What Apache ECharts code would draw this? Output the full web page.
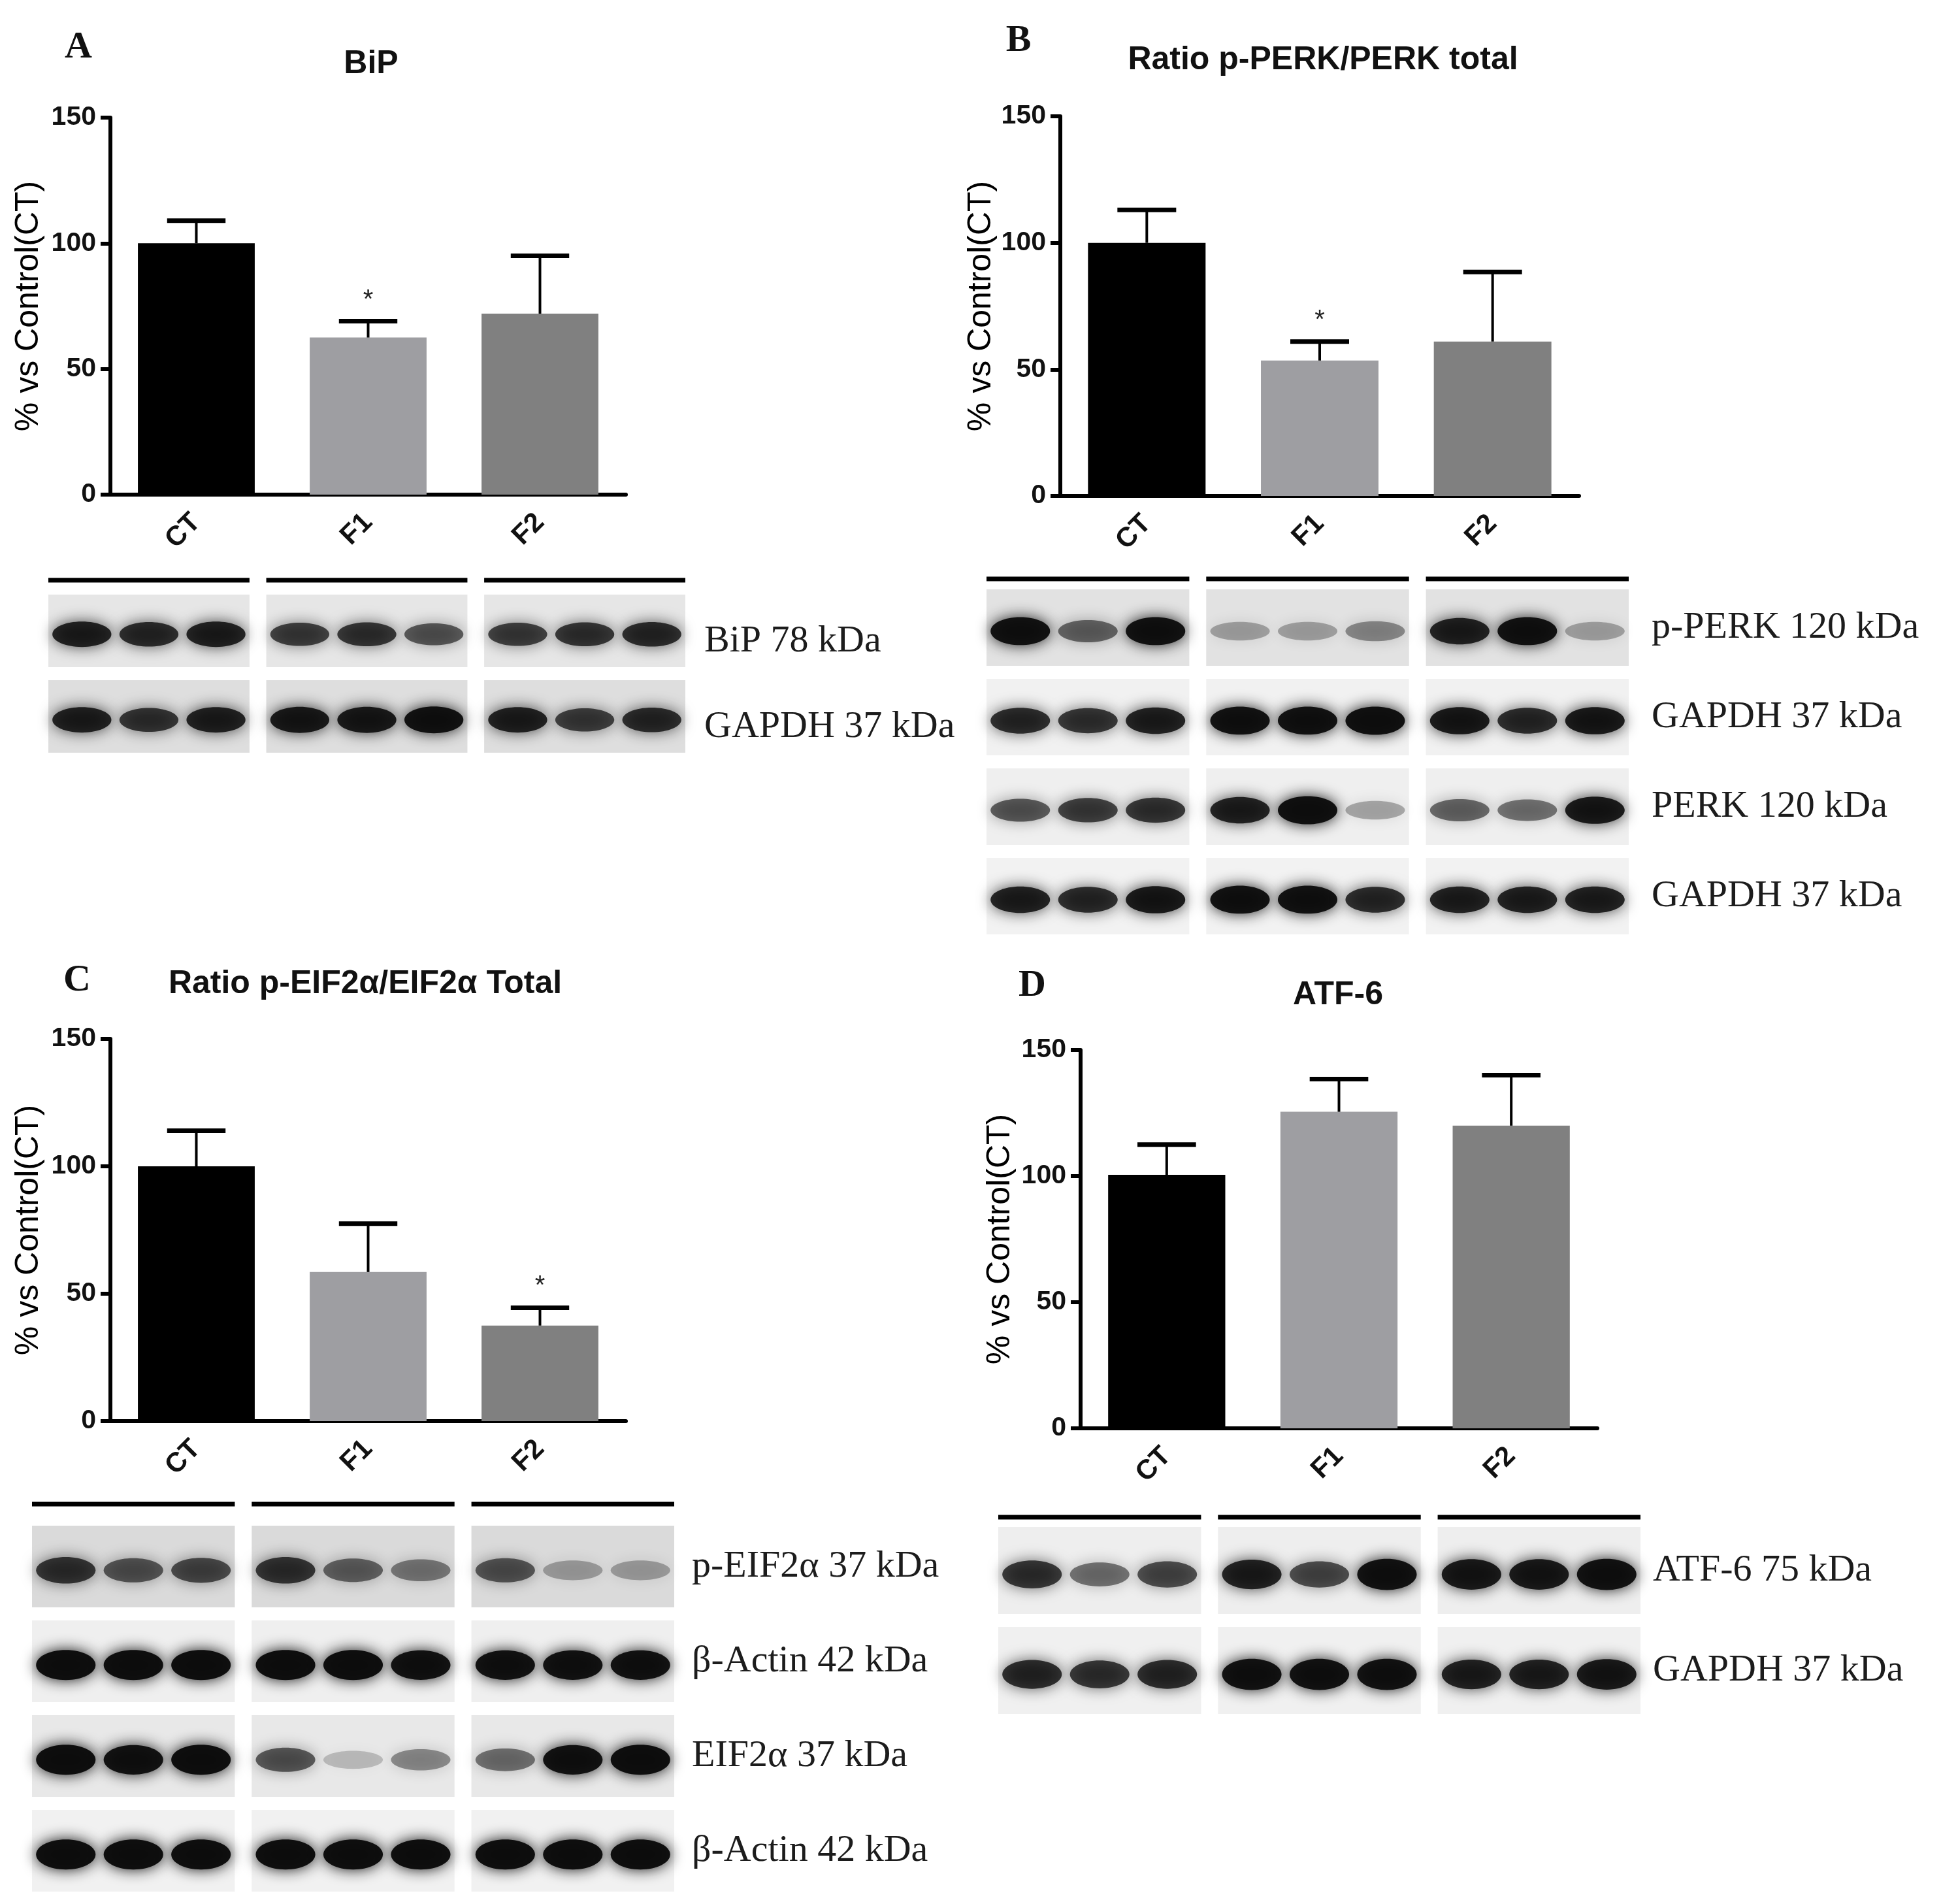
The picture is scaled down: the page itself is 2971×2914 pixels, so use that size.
<!DOCTYPE html>
<html>
<head>
<meta charset="utf-8" />
<title>UPR markers</title>
<script src="https://cdn.jsdelivr.net/npm/echarts@6/dist/echarts.min.js"></script>
<style>
html, body { margin: 0; padding: 0; background: #fff; }
#main { width: 2971px; height: 2914px; }
</style>
</head>
<body>
<div id="main"></div>
<script type="text/javascript">
// groups on the x axis and y ticks (% vs control)
var categories = ['CT', 'F1', 'F2'];
var yTicks = [0, 50, 100, 150];

// bar heights (mean) and top of the error bar (mean + SEM)
var bipMean = [100, 62.5, 72];
var bipUpper = [109, 69, 95];
var bipSig = ['', '*', ''];

var perkMean = [100, 53.5, 61];
var perkUpper = [113, 61, 88.5];
var perkSig = ['', '*', ''];

var eifMean = [100, 58.5, 37.5];
var eifUpper = [114, 77.5, 44.5];
var eifSig = ['', '', '*'];

var atfMean = [100.5, 125.5, 120];
var atfUpper = [112.5, 138.5, 140];
var atfSig = ['', '', ''];

// western blot rows: label and band darkness per lane (3 lanes x CT, F1, F2)
var bipRows = ['BiP 78 kDa', 'GAPDH 37 kDa'];
var bipBands = [
    [0.85, 0.8, 0.85, 0.7, 0.75, 0.6, 0.7, 0.75, 0.8],
    [0.85, 0.75, 0.85, 0.9, 0.9, 0.95, 0.85, 0.7, 0.8]
];
var perkRows = ['p-PERK 120 kDa', 'GAPDH 37 kDa', 'PERK 120 kDa', 'GAPDH 37 kDa'];
var perkBands = [
    [0.95, 0.55, 0.95, 0.3, 0.3, 0.4, 0.85, 0.95, 0.3],
    [0.8, 0.75, 0.85, 0.95, 0.95, 0.97, 0.9, 0.8, 0.9],
    [0.6, 0.7, 0.75, 0.85, 0.97, 0.3, 0.55, 0.5, 0.9],
    [0.85, 0.8, 0.9, 0.95, 0.95, 0.8, 0.85, 0.85, 0.85]
];
var eifRows = ['p-EIF2\u03b1 37 kDa', '\u03b2-Actin 42 kDa', 'EIF2\u03b1 37 kDa', '\u03b2-Actin 42 kDa'];
var eifBands = [
    [0.75, 0.6, 0.65, 0.75, 0.55, 0.45, 0.6, 0.3, 0.3],
    [0.98, 0.98, 0.98, 0.98, 0.98, 0.95, 0.95, 0.95, 0.95],
    [0.98, 0.95, 0.98, 0.6, 0.2, 0.4, 0.5, 0.95, 0.98],
    [0.98, 0.98, 0.98, 0.98, 0.98, 0.98, 0.98, 0.98, 0.98]
];
var atfRows = ['ATF-6 75 kDa', 'GAPDH 37 kDa'];
var atfBands = [
    [0.75, 0.5, 0.65, 0.85, 0.65, 0.95, 0.9, 0.9, 0.95],
    [0.8, 0.75, 0.8, 0.95, 0.95, 0.95, 0.85, 0.85, 0.9]
];

var barColors = ['#000000', '#9e9ea2', '#808080'];
var GROUP_STEP = 3.25;  // lanes per group + gap between groups
var SANS = '"Liberation Sans", Arial, sans-serif';
var SERIF = '"Liberation Serif", "Times New Roman", serif';

var panels = [
    {letter: 'A', letterPos: [120, 73], title: 'BiP', titlePos: [568, 98],
     grid: {left: 169, top: 180, width: 789, height: 577}, nameGap: 100,
     mean: bipMean, upper: bipUpper, sig: bipSig,
     blot: {left: 74, top: 900, width: 975, rowH: 131, lineGap: 22, labelGap: 29, labelShift: 32},
     rows: bipRows, bands: bipBands, shades: ['#e6e6e6', '#dedede']},
    {letter: 'B', letterPos: [1559, 63], title: 'Ratio p-PERK/PERK total', titlePos: [2025, 92],
     grid: {left: 1623, top: 178, width: 794, height: 581}, nameGap: 96,
     mean: perkMean, upper: perkUpper, sig: perkSig,
     blot: {left: 1510, top: 892, width: 983, rowH: 137, lineGap: 16, labelGap: 35, labelShift: 0},
     rows: perkRows, bands: perkBands, shades: ['#e2e2e2', '#f1f1f1', '#efefef', '#f2f2f2']},
    {letter: 'C', letterPos: [118, 1501], title: 'Ratio p-EIF2\u03b1/EIF2\u03b1 Total', titlePos: [559, 1506],
     grid: {left: 169, top: 1590, width: 789, height: 585}, nameGap: 100,
     mean: eifMean, upper: eifUpper, sig: eifSig,
     blot: {left: 49, top: 2325, width: 983, rowH: 145, lineGap: 33, labelGap: 27, labelShift: 0},
     rows: eifRows, bands: eifBands, shades: ['#dadada', '#efefef', '#e8e8e8', '#f1f1f1']},
    {letter: 'D', letterPos: [1580, 1509], title: 'ATF-6', titlePos: [2048, 1523],
     grid: {left: 1654, top: 1607, width: 791, height: 579}, nameGap: 98,
     mean: atfMean, upper: atfUpper, sig: atfSig,
     blot: {left: 1528, top: 2327, width: 983, rowH: 153, lineGap: 15, labelGap: 19, labelShift: 0},
     rows: atfRows, bands: atfBands, shades: ['#eeeeee', '#f0f0f0']}
];

function errorItem(sig) {
    return function (params, api) {
        var i = api.value(0);
        var base = api.coord([i, api.value(1)]);
        var top = api.coord([i, api.value(2)]);
        var half = api.size([1, 0])[0] * 0.17;
        var kids = [
            {type: 'line', shape: {x1: top[0], y1: base[1], x2: top[0], y2: top[1]},
             style: {stroke: '#000', lineWidth: 4}},
            {type: 'line', shape: {x1: top[0] - half, y1: top[1], x2: top[0] + half, y2: top[1]},
             style: {stroke: '#000', lineWidth: 7}}
        ];
        if (sig[i]) {
            kids.push({type: 'text', x: top[0], y: top[1] - 32,
                style: {text: sig[i], fill: '#222', font: '40px ' + SANS, align: 'center', verticalAlign: 'middle'}});
        }
        return {type: 'group', children: kids};
    };
}

function laneBox(shades, lineGap) {
    return function (params, api) {
        var g = api.value(0), r = api.value(1);
        var a = api.coord([g * GROUP_STEP, r]);
        var b = api.coord([g * GROUP_STEP + 3, r]);
        var rowH = api.size([0, 1])[1];
        var y0 = a[1] - rowH / 2 + 10;
        var kids = [{type: 'rect', shape: {x: a[0], y: y0, width: b[0] - a[0], height: rowH - 20},
                     style: {fill: shades[r]}}];
        if (r === 0) {
            kids.push({type: 'line', shape: {x1: a[0], y1: y0 - lineGap, x2: b[0], y2: y0 - lineGap},
                       style: {stroke: '#000', lineWidth: 7}});
        }
        return {type: 'group', children: kids};
    };
}

function bandItem(params, api) {
    var p = api.coord([api.value(0), api.value(1)]);
    var lane = api.size([1, 0])[0];
    var rowH = api.size([0, 1])[1];
    var a = api.value(2);
    var col = 'rgba(12,12,12,' + a + ')';
    return {type: 'ellipse',
        shape: {cx: p[0], cy: p[1] + rowH * 0.04, rx: lane * 0.44, ry: rowH * (0.08 + 0.08 * a)},
        style: {fill: col, shadowBlur: 22, shadowColor: col}};
}

var option = {
    backgroundColor: '#ffffff',
    animation: false,
    title: [], grid: [], xAxis: [], yAxis: [], series: []
};

panels.forEach(function (p, k) {
    option.title.push({text: p.letter, left: p.letterPos[0], top: p.letterPos[1], padding: 0,
        textAlign: 'center', textVerticalAlign: 'middle',
        textStyle: {fontFamily: SERIF, fontWeight: 'bold', fontSize: 58, color: '#111'}});
    option.title.push({text: p.title, left: p.titlePos[0], top: p.titlePos[1], padding: 0,
        textAlign: 'center', textVerticalAlign: 'middle',
        textStyle: {fontFamily: SANS, fontWeight: 'bold', fontSize: 50, color: '#111'}});

    // bar chart
    var gi = option.grid.length;
    option.grid.push(p.grid);
    option.xAxis.push({type: 'category', gridIndex: gi, data: categories,
        axisLine: {lineStyle: {color: '#000', width: 6}},
        axisTick: {alignWithLabel: true, length: 20, lineStyle: {color: '#000', width: 6}},
        axisLabel: {rotate: 45, margin: 36, color: '#111', fontFamily: SANS, fontWeight: 'bold', fontSize: 42}});
    option.yAxis.push({type: 'value', gridIndex: gi, min: yTicks[0], max: yTicks[yTicks.length - 1],
        interval: yTicks[1] - yTicks[0], splitLine: {show: false},
        name: '% vs Control(CT)', nameLocation: 'middle', nameGap: p.nameGap,
        nameTextStyle: {fontFamily: SANS, fontSize: 50, color: '#000'},
        axisLine: {show: true, lineStyle: {color: '#000', width: 6}},
        axisTick: {show: true, length: 15, lineStyle: {color: '#000', width: 6}},
        axisLabel: {margin: 22, color: '#111', fontFamily: SANS, fontWeight: 'bold', fontSize: 41}});
    option.series.push({type: 'bar', xAxisIndex: gi, yAxisIndex: gi, barWidth: '68%', z: 2,
        data: p.mean.map(function (v, i) { return {value: v, itemStyle: {color: barColors[i]}}; })});
    option.series.push({type: 'custom', xAxisIndex: gi, yAxisIndex: gi, z: 3,
        renderItem: errorItem(p.sig), encode: {x: 0, y: [1, 2]},
        data: p.mean.map(function (v, i) { return [i, v, p.upper[i]]; })});

    // blot strip
    var bi = option.grid.length;
    option.grid.push({left: p.blot.left, top: p.blot.top, width: p.blot.width,
        height: p.blot.rowH * p.rows.length});
    option.xAxis.push({type: 'value', gridIndex: bi, min: 0, max: 2 * GROUP_STEP + 3, show: false});
    option.yAxis.push({type: 'category', gridIndex: bi, data: p.rows, inverse: true, position: 'right',
        axisLine: {show: false}, axisTick: {show: false}, splitLine: {show: false},
        axisLabel: {margin: p.blot.labelGap,
            formatter: function (v) { return '{t|' + v + '}'; },
            rich: {t: {color: '#1c1c1c', fontFamily: SERIF, fontSize: 58,
                       padding: [p.blot.labelShift, 0, 0, 0]}}}});
    var boxes = [], bands = [];
    p.rows.forEach(function (name, r) {
        for (var g = 0; g < 3; g++) {
            boxes.push([g, r]);
            for (var l = 0; l < 3; l++) {
                bands.push([g * GROUP_STEP + l + 0.5, r, p.bands[r][g * 3 + l]]);
            }
        }
    });
    option.series.push({type: 'custom', xAxisIndex: bi, yAxisIndex: bi, z: 1,
        renderItem: laneBox(p.shades, p.blot.lineGap), data: boxes});
    option.series.push({type: 'custom', xAxisIndex: bi, yAxisIndex: bi, z: 2,
        renderItem: bandItem, data: bands});
});

var myChart = echarts.init(document.getElementById('main'));
myChart.setOption(option);
</script>
</body>
</html>
